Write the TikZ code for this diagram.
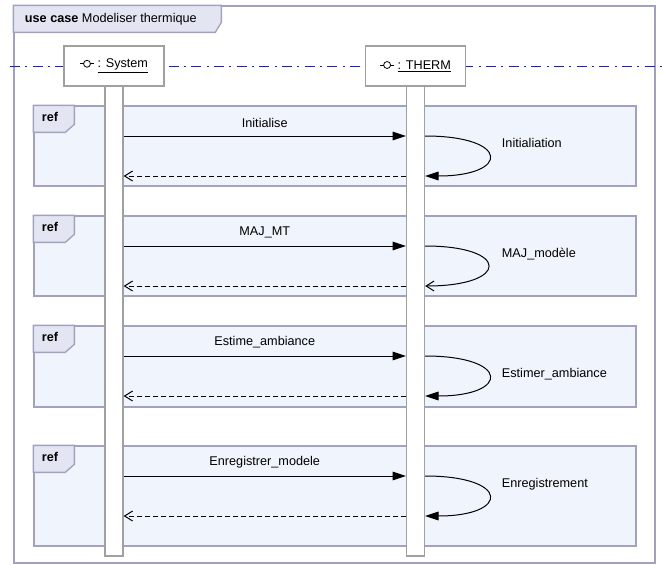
\documentclass[tikz,border=0pt]{standalone}
\usepackage{fontspec}
\setmainfont{Liberation Sans}
\usetikzlibrary{arrows.meta, positioning, calc}
\definecolor{cframe}{HTML}{A2A2BE}
\definecolor{ctab}{HTML}{E3E6F2}
\definecolor{cref}{HTML}{F0F4FD}
\definecolor{cbar}{HTML}{A0A0A0}
\definecolor{clife}{HTML}{1A1AF0}
\tikzset{
  every picture/.style={font=\fontsize{9.5}{11}\selectfont, line width=0.75pt},
  frame/.style={draw=cframe, line width=1pt},
  tab/.style={draw=cframe, fill=ctab, line width=1pt},
  refbox/.style={draw=cframe, fill=cref, line width=1pt, minimum width=451.5pt},
  head/.style={draw=cbar, fill=white, line width=1pt, minimum width=75pt, minimum height=30pt, inner sep=2pt},
  bar/.style={draw=cbar, fill=white, line width=1pt, minimum width=13.5pt, minimum height=352.5pt, inner sep=0pt},
  lifeline/.style={draw=clife, line width=0.75pt, dash pattern=on 7.5pt off 4pt on 1.5pt off 4pt},
  call/.style={-{Triangle[length=10pt, width=6.5pt]}},
  reply/.style={-{Straight Barb[length=6pt, width=7.5pt]}, dash pattern=on 3.5pt off 2.5pt},
  loopfill/.style={-{Triangle[length=10pt, width=6.5pt]}},
  loopbarb/.style={-{Straight Barb[length=6pt, width=7.5pt]}},
}
\newcommand\ifcicon{\tikz[baseline=-0.6ex, x=1pt, y=1pt, line width=0.6pt]{\draw (-5,0) -- (5,0); \draw[fill=white] (0,0) circle (2.6);}}

\begin{document}
\begin{tikzpicture}[x=0.75pt, y=-0.75pt]
  \useasboundingbox (0,0) rectangle (662,565);
  % ---------- frame ----------
  \node[frame, minimum width=480.75pt, minimum height=417.75pt] (uc) at (334.5, 284.5) {};
  \draw[tab] (uc.north west) -- ++(208,0) -- ++(0,17) -- ++(-6,10) -- ++(-202,0) -- cycle;
  \node[anchor=west] (uctitle) at (20, 19.5) {\textbf{use case} Modeliser thermique};
  % ---------- lifelines ----------
  \draw[lifeline] (10,66) -- (662,66);
  \node[head] (sys) at (114, 66) {\ifcicon\ \underline{: System}};
  \node[head] (therm) at (415.5, 66) {\ifcicon\ \underline{: THERM}};
  % ---------- ref frames ----------
  \foreach \n/\top/\h in {1/106/80, 2/216/80, 3/326/81, 4/446/100}{
    \pgfmathsetmacro{\cy}{\top+\h/2}
    \node[refbox, minimum height=\h*0.75pt] (ref\n) at (335, \cy) {};
    \draw[tab] (ref\n.north west) -- ++(41,0) -- ++(0,19) -- ++(-9,8) -- ++(-32,0) -- cycle;
    \node[font=\fontsize{9.5}{11}\selectfont\bfseries] (reflbl\n) at (50, \top+11) {ref};
  }
  \node[bar] (sysbar) at (114, 321) {};
  \node[bar] (thermbar) at (415.5, 321) {};
  % ---------- messages ----------
  \foreach \n/\top/\msg/\loopmsg/\ly/\ls in {1/106/Initialise/Initialiation/37/loopfill,
      2/216/MAJ\_MT/MAJ\_modèle/38/loopbarb,
      3/326/Estime\_ambiance/Estimer\_ambiance/48/loopfill,
      4/446/Enregistrer\_modele/Enregistrement/38/loopfill}{
    \coordinate (call\n) at (264, \top+30);
    \coordinate (ret\n) at (264, \top+70);
    \draw[call] (sysbar.east |- call\n) -- (thermbar.west |- call\n) node[midway, above=2.5pt] (msg\n) {\msg};
    \draw[\ls] (thermbar.east |- call\n) .. controls +(85,0) and +(85,0) .. (thermbar.east |- ret\n);
    \draw[reply] (thermbar.west |- ret\n) -- (sysbar.east |- ret\n);
    \node[anchor=west] (loop\n) at (497, \top+\ly) {\loopmsg};
  }
\end{tikzpicture}
\end{document}
